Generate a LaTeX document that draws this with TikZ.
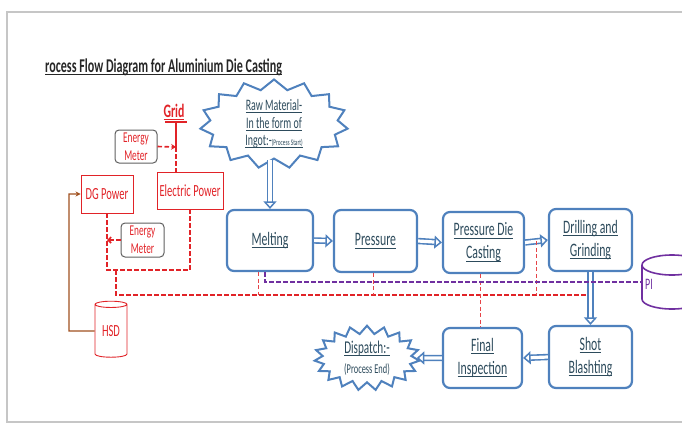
\documentclass[tikz,border=0pt]{standalone}
\usepackage{fontspec}
\setmainfont{Carlito}[FakeStretch=0.62]
\usetikzlibrary{arrows.meta,shapes.symbols,shapes.geometric,calc}
\newcommand\ulx[1]{\leavevmode\setbox0=\hbox{#1}\rlap{\rule[-2.4pt]{\wd0}{0.75pt}}\box0}
\definecolor{ob}{RGB}{79,129,189}
\definecolor{rd}{RGB}{225,35,40}
\definecolor{pu}{RGB}{112,48,160}
\definecolor{brn}{RGB}{160,80,30}
\definecolor{tx}{RGB}{45,75,92}
\definecolor{mg}{RGB}{95,95,95}
\begin{document}
\begin{tikzpicture}[x=1pt,y=-1pt,
  proc/.style={draw=ob, line width=2.2pt, rounded corners=7pt, fill=white,
    text=tx, align=center, inner sep=0pt, font=\fontsize{19}{23}\selectfont},
  redbox/.style={draw=rd, line width=0.9pt, text=rd, inner sep=0pt,
    font=\fontsize{17}{19}\selectfont},
  meter/.style={draw=mg, line width=1pt, rounded corners=4pt, text=rd, inner sep=0pt,
    align=center, font=\fontsize{15}{18}\selectfont, minimum width=42pt, minimum height=33pt},
  bus/.style={draw=rd, line width=1.6pt, dash pattern=on 4.5pt off 2.5pt},
  thinr/.style={draw=rd!85, line width=0.7pt, dash pattern=on 4pt off 2.5pt},
  pur/.style={draw=pu, line width=1.6pt, dash pattern=on 4.5pt off 2.5pt},
  hollow/.style={draw=ob, line width=1.6pt, double=white, double distance=3.2pt,
    -{Triangle[open, length=7.5pt, width=13pt, line width=1.5pt, fill=white]}},
  burst/.style={starburst, random starburst=0, draw=ob, line width=2pt, fill=white,
    inner sep=0pt, align=center, text=tx}
]
\useasboundingbox (0,0) rectangle (682,426);
\clip (0,0) rectangle (682,426);
% page frame
\draw[gray!45, line width=1.6pt] (7,12) rectangle (720,422);

% title
\node[anchor=base west, inner sep=0pt, text=black!85,
  font=\bfseries\fontsize{19.5}{22}\selectfont] (title) at (45,72)
  {\ulx{rocess Flow Diagram for Aluminium Die Casting}};

% power side
\node[anchor=base, inner sep=0pt, text=rd, font=\bfseries\fontsize{19}{21}\selectfont] (grid) at (174,117) {\ulx{Grid}};
\coordinate (gl) at (165,122);
\coordinate (gr) at (187,122);
\coordinate (gm) at (176,122);
\coordinate (gj) at (176,147);
\draw[rd, line width=1.4pt] (gl) -- (gr);
\draw[rd, line width=1.2pt] (gm) -- (gj);

\node[meter] (m1) at (136,146.5) {Energy\\Meter};
\node[redbox, minimum width=66pt, minimum height=37pt] (ep) at (190,190.5) {Electric Power};
\node[redbox, minimum width=52pt, minimum height=38pt] (dg) at (107,194) {DG Power};
\node[meter, minimum width=43pt, minimum height=34pt] (m2) at (142.5,240) {Energy\\Meter};

\draw[bus] (gj) -- (gj |- ep.north);
\draw[bus, -{Stealth[length=5pt,width=6pt]}] (m1.east) -- (gj);
\draw[bus, -{Straight Barb[length=3pt,width=6pt]}] (m2.west) -- (m2.west -| dg.south);

\coordinate (loopL) at (107,270);
\coordinate (loopR) at (190,270);
\draw[bus] (dg.south) -- (loopL) -- (loopR) -- (ep.south);
\coordinate (busA) at (116,270);
\coordinate (busB) at (116,295);
\coordinate (busC) at (588,295);
\draw[bus] (busA) -- (busB) -- (busC);

% HSD
\node[cylinder, shape border rotate=90, aspect=0.35, draw=rd, line width=0.9pt,
  minimum width=32pt, minimum height=56pt, inner sep=0pt, text=rd,
  font=\fontsize{17}{19}\selectfont] (hsd) at (111,331) {HSD};
\coordinate (bk) at (69,331);
\draw[brn, line width=1.2pt, -{Stealth[length=5pt,width=5pt]}] (hsd.west) -- (bk) |- (dg.west);

% process boxes
\node[proc, minimum width=86pt, minimum height=61pt] (melt) at (270,240.5) {\ulx{Melting}};
\node[proc, minimum width=83pt, minimum height=62pt] (pres) at (375.5,241) {\ulx{Pressure}};
\node[proc, minimum width=81pt, minimum height=61pt] (pdc) at (483.5,242.5) {\ulx{Pressure Die}\\\ulx{Casting}};
\node[proc, minimum width=83pt, minimum height=62pt] (drill) at (590.5,240) {\ulx{Drilling and}\\\ulx{Grinding}};
\node[proc, minimum width=83pt, minimum height=62pt] (shot) at (590.5,357) {\ulx{Shot}\\\ulx{Blashting}};
\node[proc, minimum width=79pt, minimum height=60pt] (fin) at (482.5,358) {\ulx{Final}\\\ulx{Inspection}};

% bursts
\node[burst, starburst points=15, starburst point height=10pt,
  minimum width=148pt, minimum height=68pt,
  font=\fontsize{16}{17.5}\selectfont] (raw) at (274,124)
  {\ulx{Raw Material-}\\\ulx{In the form of}\\\ulx{Ingot:-{\fontsize{8.5}{9}\selectfont(Process Start)}}};
\node[burst, starburst points=19, starburst point height=8pt,
  minimum width=105pt, minimum height=60pt,
  font=\fontsize{18}{20}\selectfont] (disp) at (367,358)
  {\ulx{Dispatch:-}\\{\fontsize{13.5}{15}\selectfont(Process End)}};

% flow arrows
\draw[hollow] (melt.north |- raw.south) -- (melt.north);
\draw[hollow] (melt.east) -- (pres.west);
\draw[hollow] (pres.east) -- (pdc.west);
\draw[hollow] (pdc.east) -- (drill.west);
\draw[hollow] (drill.south) -- (shot.north);
\draw[hollow] (shot.west) -- (fin.east);
\draw[hollow] (fin.west) -- (disp.east);

% thin red taps
\path ([xshift=-12pt]melt.south) coordinate (t1);
\path ([xshift=-2.5pt]pres.south) coordinate (t2);
\path ([xshift=-3.5pt]pdc.south) coordinate (t3);
\coordinate (t4) at ($(pdc.east)!0.5!(drill.west)$);
\draw[thinr] (t1) -- (t1 |- busB);
\draw[thinr] (t2) -- (t2 |- busB);
\draw[thinr] (t3) -- (t3 |- fin.north);
\draw[thinr] (t4) -- (t4 |- busB);

% purple line and PI tank
\path ([xshift=-5pt]melt.south) coordinate (p0);
\coordinate (p1) at (265,282);
\coordinate (pit) at (642,282);
\draw[pur] (p0) -- (p1) -- (pit);
\draw[pu, line width=1.6pt] (672,265) ellipse [x radius=30, y radius=10];
\draw[pu, line width=1.6pt] (642,265) -- (642,299) arc[start angle=180, end angle=0, x radius=30, y radius=10];
\node[anchor=west, inner sep=0pt, text=pu, font=\fontsize{16}{18}\selectfont] (pil) at (645,284) {PI};
\end{tikzpicture}
\end{document}
